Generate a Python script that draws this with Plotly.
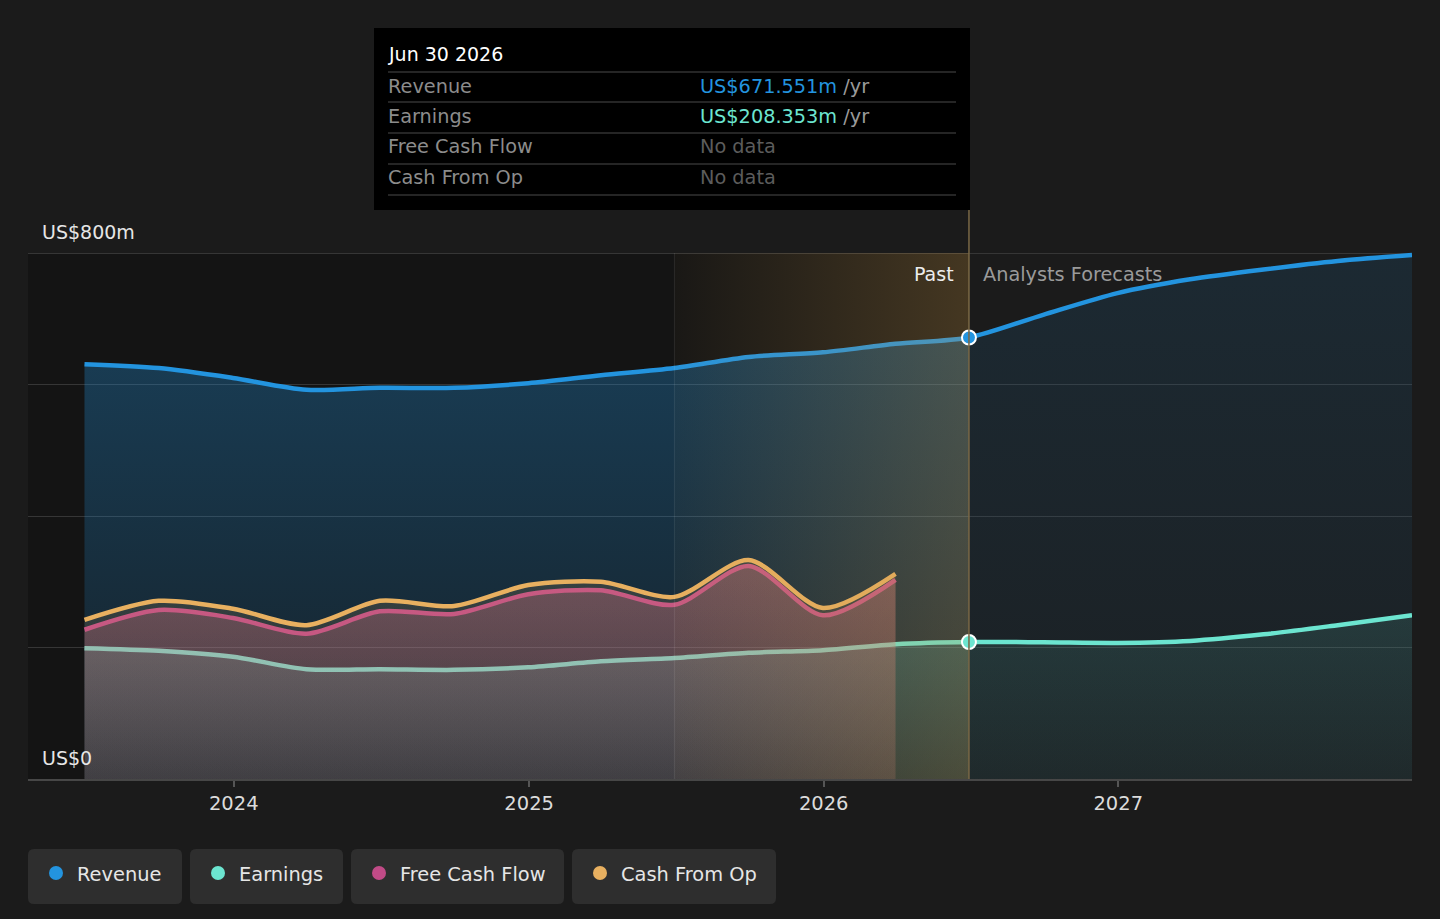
import plotly.graph_objects as go
from datetime import date

W, H = 1440, 919

# ---- data, US$ millions ----
past_dates = ["2023-06-30", "2023-09-30", "2023-12-31", "2024-03-31", "2024-06-30",
              "2024-09-30", "2024-12-31", "2025-03-31", "2025-06-30", "2025-09-30",
              "2025-12-31", "2026-03-31", "2026-06-30"]
revenue_past = [631, 625, 610, 592, 595, 595, 602, 614, 625, 642, 649, 662, 671.551]
earnings_past = [199, 195, 186, 167, 167, 166, 170, 179, 184, 192, 196, 205, 208.353]

cash_dates = past_dates[:-1]
fcf = [227, 257, 245, 221, 255, 251, 281, 287, 265, 324, 249, 303]
cfo = [242, 271, 259, 234, 271, 263, 295, 300, 277, 333, 260, 312]

fc_dates = ["2026-06-30", "2026-09-30", "2026-12-31", "2027-03-31", "2027-06-30",
            "2027-09-30", "2027-12-31"]
revenue_fc = [671.551, 706, 739, 760, 775, 788, 797]
earnings_fc = [208.353, 208, 207, 210, 220, 234, 249]

year_ticks = ["2024-01-01", "2025-01-01", "2026-01-01", "2027-01-01"]
year_labels = ["2024", "2025", "2026", "2027"]

names = ["Revenue", "Earnings", "Free Cash Flow", "Cash From Op"]
colors = ["#2394df", "#6ce5d0", "#c14b87", "#e8b060"]

X_START, X_END = "2023-04-21", "2027-12-31"
BAND_START, HOVER_DATE = "2025-06-30", "2026-06-30"
Y_TOP = 800

BG = "#1b1b1b"
FONT = "DejaVu Sans"


def X(v):
    return v / W


def Y(v):
    return 1 - v / H


def rgba(hexc, a):
    h = hexc.lstrip("#")
    return "rgba(%d,%d,%d,%.3f)" % (int(h[0:2], 16), int(h[2:4], 16), int(h[4:6], 16), a)


def rounded_box(x0, y0, x1, y1, r=6):
    return (f"M{X(x0 + r)},{Y(y0)} L{X(x1 - r)},{Y(y0)} Q{X(x1)},{Y(y0)} {X(x1)},{Y(y0 + r)} "
            f"L{X(x1)},{Y(y1 - r)} Q{X(x1)},{Y(y1)} {X(x1 - r)},{Y(y1)} "
            f"L{X(x0 + r)},{Y(y1)} Q{X(x0)},{Y(y1)} {X(x0)},{Y(y1 - r)} "
            f"L{X(x0)},{Y(y0 + r)} Q{X(x0)},{Y(y0)} {X(x0 + r)},{Y(y0)} Z")


def fill_trace(x, y, color, a_low, a_high):
    return go.Scatter(x=x, y=y, mode="lines", line=dict(width=0, shape="spline", smoothing=0.8),
                      fill="tozeroy",
                      fillgradient=dict(type="vertical",
                                        colorscale=[[0, rgba(color, a_low)], [1, rgba(color, a_high)]]),
                      hoverinfo="skip", showlegend=False)


def line_trace(x, y, color):
    return go.Scatter(x=x, y=y, mode="lines", line=dict(width=4.5, color=color, shape="spline", smoothing=0.8),
                      hoverinfo="skip", showlegend=False)


fig = go.Figure()

# revenue
fig.add_trace(fill_trace(past_dates, revenue_past, colors[0], 0.10, 0.32))
fig.add_trace(fill_trace(fc_dates, revenue_fc, colors[0], 0.04, 0.12))
fig.add_trace(line_trace(past_dates + fc_dates[1:], revenue_past + revenue_fc[1:], colors[0]))

# earnings
fig.add_trace(fill_trace(past_dates, earnings_past, colors[1], 0.08, 0.20))
fig.add_trace(fill_trace(fc_dates, earnings_fc, colors[1], 0.05, 0.12))
fig.add_trace(line_trace(past_dates + fc_dates[1:], earnings_past + earnings_fc[1:], colors[1]))

# free cash flow
fig.add_trace(fill_trace(cash_dates, fcf, "#d2648a", 0.14, 0.36))
fig.add_trace(line_trace(cash_dates, fcf, colors[2]))

# cash from op
fig.add_trace(fill_trace(cash_dates, cfo, colors[3], 0.06, 0.16))
fig.add_trace(line_trace(cash_dates, cfo, colors[3]))

# highlighted last-year band
fig.add_trace(go.Scatter(
    x=[BAND_START, HOVER_DATE, HOVER_DATE, BAND_START, BAND_START],
    y=[0, 0, Y_TOP, Y_TOP, 0], mode="lines", line=dict(width=0), fill="toself",
    fillgradient=dict(type="horizontal",
                      colorscale=[[0, "rgba(200,150,70,0.03)"], [1, "rgba(200,150,70,0.27)"]]),
    hoverinfo="skip", showlegend=False))

# hover markers
fig.add_trace(go.Scatter(
    x=[HOVER_DATE, HOVER_DATE], y=[revenue_fc[0], earnings_fc[0]], mode="markers",
    marker=dict(size=14, color=[colors[0], colors[1]], line=dict(color="white", width=2)),
    hoverinfo="skip", showlegend=False))

shapes = [
    dict(type="rect", xref="x", yref="y", x0=X_START, x1=HOVER_DATE, y0=0, y1=Y_TOP,
         fillcolor="#141414", line=dict(width=0), layer="below"),
    dict(type="line", xref="x", yref="y", x0=BAND_START, x1=BAND_START, y0=0, y1=Y_TOP,
         line=dict(color="rgba(255,255,255,0.09)", width=1), layer="above"),
    dict(type="line", xref="x", yref="paper", x0=HOVER_DATE, x1=HOVER_DATE, y0=Y(779), y1=Y(210),
         line=dict(color="#7a6846", width=1.5), layer="above"),
    dict(type="rect", xref="paper", yref="paper", x0=X(374), x1=X(970), y0=Y(210), y1=Y(28),
         fillcolor="#000000", line=dict(width=0), layer="above"),
]
for sy in [72, 102, 133, 164, 195]:
    shapes.append(dict(type="line", xref="paper", yref="paper", x0=X(388), x1=X(956), y0=Y(sy), y1=Y(sy),
                       line=dict(color="#4a4a4a", width=1.2), layer="above"))

annotations = []
hd = date.fromisoformat(HOVER_DATE)
annotations.append(dict(xref="paper", yref="paper", x=X(386), y=Y(54), xanchor="left", yanchor="middle",
                        text=hd.strftime("%b %d %Y"), showarrow=False, font=dict(size=19, color="#ffffff")))
tip_rows = [
    ("Revenue", f"<span style='color:{colors[0]}'>US${revenue_fc[0]:.3f}m</span> /yr", "#9a9a9a"),
    ("Earnings", f"<span style='color:{colors[1]}'>US${earnings_fc[0]:.3f}m</span> /yr", "#9a9a9a"),
    ("Free Cash Flow", "No data", "#5c5c5c"),
    ("Cash From Op", "No data", "#5c5c5c"),
]
for i, (lab, val, vc) in enumerate(tip_rows):
    ry = 86 + i * 30.5
    annotations.append(dict(xref="paper", yref="paper", x=X(386), y=Y(ry), xanchor="left", yanchor="middle",
                            text=lab, showarrow=False, font=dict(size=19.3, color="#8c8c8c")))
    annotations.append(dict(xref="paper", yref="paper", x=X(698), y=Y(ry), xanchor="left", yanchor="middle",
                            text=val, showarrow=False, font=dict(size=19.3, color=vc)))

annotations += [
    dict(xref="paper", yref="paper", x=X(40), y=Y(232), xanchor="left", yanchor="middle",
         text="US$800m", showarrow=False, font=dict(size=19, color="#e6e6e6")),
    dict(xref="paper", yref="paper", x=X(40), y=Y(758), xanchor="left", yanchor="middle",
         text="US$0", showarrow=False, font=dict(size=19, color="#e6e6e6")),
    dict(xref="paper", yref="paper", x=X(956), y=Y(274), xanchor="right", yanchor="middle",
         text="Past", showarrow=False, font=dict(size=19, color="#ececec")),
    dict(xref="paper", yref="paper", x=X(981), y=Y(274), xanchor="left", yanchor="middle",
         text="Analysts Forecasts", showarrow=False, font=dict(size=19.3, color="#9a9a9a")),
]

# legend chips
chips = [(28, 182), (190, 343), (351, 564), (572, 776)]
for (cx0, cx1), name, col in zip(chips, names, colors):
    shapes.append(dict(type="path", xref="paper", yref="paper", path=rounded_box(cx0, 849, cx1, 904),
                       fillcolor="#2e2e2e", line=dict(width=0), layer="above"))
    dx = cx0 + 28
    shapes.append(dict(type="circle", xref="paper", yref="paper", x0=X(dx - 7), x1=X(dx + 7),
                       y0=Y(873 + 7), y1=Y(873 - 7), fillcolor=col, line=dict(width=0), layer="above"))
    annotations.append(dict(xref="paper", yref="paper", x=X(dx + 19), y=Y(874), xanchor="left",
                            yanchor="middle", text=name, showarrow=False,
                            font=dict(size=19.4, color="#e6e6e6")))

fig.update_layout(
    width=W, height=H,
    margin=dict(l=0, r=0, t=0, b=0),
    paper_bgcolor=BG, plot_bgcolor=BG,
    font=dict(family=FONT, color="#dddddd"),
    hovermode=False,
    showlegend=False,
    shapes=shapes,
    annotations=annotations,
    xaxis=dict(type="date", range=[X_START, X_END], domain=[X(28), X(1412)],
               tickvals=year_ticks, ticktext=year_labels, showgrid=False,
               showline=True, linecolor="#474747", linewidth=1.5,
               ticks="outside", ticklen=6, tickcolor="#555555", tickwidth=1.5,
               tickfont=dict(size=19.5, color="#dcdcdc"), ticklabelstandoff=0, fixedrange=True),
    yaxis=dict(range=[0, 835], domain=[Y(779), Y(230)], tickvals=[0, 200, 400, 600, 800],
               showticklabels=False, showgrid=True, gridcolor="#363636", gridwidth=1.2,
               zeroline=False, fixedrange=True),
)

fig.write_html("out.html", config={"displayModeBar": False},
               post_script="document.body.style.margin='0';document.body.style.overflow='hidden';"
                           "document.body.style.background='%s';" % BG)
